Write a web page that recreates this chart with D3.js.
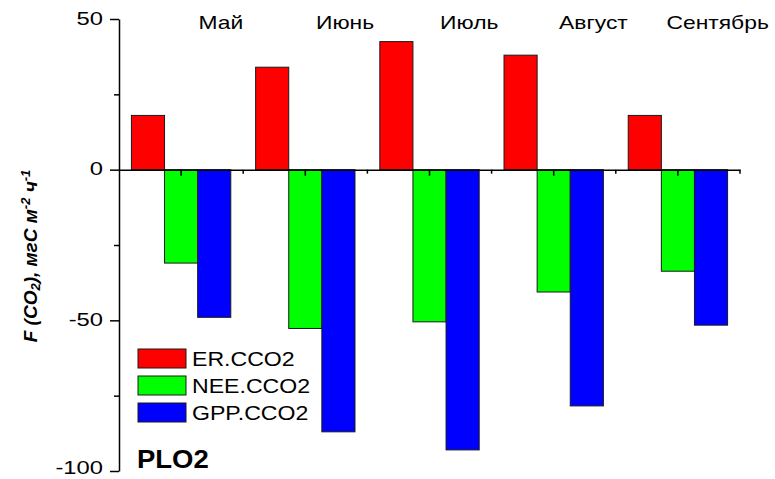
<!DOCTYPE html>
<html>
<head>
<meta charset="utf-8">
<script src="https://cdn.jsdelivr.net/npm/d3@7"></script>
<style>
  body { margin: 0; background: #fff; }
  svg text { font-family: "Liberation Sans", Arial, sans-serif; fill: #000; }
</style>
</head>
<body>
<div id="chart"></div>
<script>
// Données
const months = ["Май", "Июнь", "Июль", "Август", "Сентябрь"];
const series = ["ER.CCO2", "NEE.CCO2", "GPP.CCO2"];
const erValues = [18, 34, 42.5, 38, 18];
const neeValues = [-31, -52.7, -50.5, -40.6, -33.7];
const gppValues = [-49, -87, -93, -78.4, -51.6];
const colors = ["#ff0000", "#00ff00", "#0000ff"];
const majorYTicks = [50, 0, -50, -100];
const minorYTicks = [25, -25, -75];

const width = 775, height = 479;
const svg = d3.select("#chart").append("svg").attr("width", width).attr("height", height);

const x = d3.scaleBand().domain(months).range([119, 740]).padding(0);
const xs = d3.scaleBand().domain(series).range([x.bandwidth() * 0.1, x.bandwidth() * 0.9]);
const y = d3.scaleLinear().domain([-100, 50]).range([471, 19]);

const values = [erValues, neeValues, gppValues];
const data = [];
months.forEach((m, i) => series.forEach((s, j) => data.push({ m, s, v: values[j][i], c: colors[j] })));

// barres
svg.append("g")
    .selectAll("rect")
    .data(data)
    .join("rect")
    .attr("x", d => x(d.m) + xs(d.s))
    .attr("width", xs.bandwidth())
    .attr("y", d => y(Math.max(0, d.v)))
    .attr("height", d => Math.abs(y(d.v) - y(0)))
    .attr("fill", d => d.c)
    .attr("stroke", "#1a1a1a")
    .attr("stroke-width", 1);

// axe Y
const yAxis = svg.append("g")
    .attr("transform", "translate(119,0)")
    .call(d3.axisLeft(y).tickValues(majorYTicks).tickSize(9).tickSizeOuter(0).tickFormat(d => String(d)));
yAxis.select(".domain").attr("stroke-width", 1.5);
yAxis.selectAll(".tick line").attr("stroke-width", 1.5);
yAxis.selectAll("text")
    .attr("x", 0)
    .attr("dy", d => d === -100 ? "0.12em" : "0.28em")  // le dernier reste dans le cadre
    .attr("transform", "translate(-16,0) scale(1.25,1)")
    .style("font-size", "19px");

svg.append("g")
    .attr("transform", "translate(119,0)")
    .call(d3.axisLeft(y).tickValues(minorYTicks).tickSize(5).tickFormat("").tickSizeOuter(0))
    .call(g => g.select(".domain").remove())
    .selectAll("line").attr("stroke-width", 1.5);

// axe X à zéro
const xAxis = svg.append("g")
    .attr("transform", `translate(0,${y(0)})`)
    .call(d3.axisBottom(x).tickSize(6).tickFormat("").tickSizeOuter(0));
xAxis.select(".domain").attr("stroke-width", 1.5);
xAxis.selectAll(".tick line").attr("stroke-width", 1.5);

svg.append("g")
    .selectAll("line")
    .data(months)
    .join("line")
    .attr("x1", d => x(d) + x.bandwidth())
    .attr("x2", d => x(d) + x.bandwidth())
    .attr("y1", y(0))
    .attr("y2", y(0) + 4)
    .attr("stroke", "#000")
    .attr("stroke-width", 1.5);

// noms des mois en haut
svg.append("g")
    .selectAll("text")
    .data(months)
    .join("text")
    .attr("transform", d => `translate(${x(d) + x.bandwidth() * 0.82},29) scale(1.27,1)`)
    .attr("text-anchor", "middle")
    .style("font-size", "18px")
    .text(d => d);

// légende
const legend = svg.append("g").attr("transform", "translate(138,349)");
series.forEach((s, i) => {
    legend.append("rect")
        .attr("x", 0).attr("y", i * 27)
        .attr("width", 48).attr("height", 19)
        .attr("fill", colors[i])
        .attr("stroke", "#1a1a1a");
    legend.append("text")
        .attr("transform", `translate(54,${i * 27 + 17}) scale(1.1,1)`)
        .style("font-size", "21px")
        .text(s);
});

svg.append("text")
    .attr("transform", "translate(137,468) scale(1.1,1)")
    .style("font-size", "25px")
    .style("font-weight", "bold")
    .text("PLO2");

// titre de l'axe Y
const title = svg.append("text")
    .attr("transform", "translate(37,256) rotate(-90)")
    .attr("text-anchor", "middle")
    .style("font-size", "19px")
    .style("font-weight", "bold")
    .style("font-style", "italic");
title.append("tspan").text("F (CO");
title.append("tspan").attr("baseline-shift", "-25%").style("font-size", "13px").text("2");
title.append("tspan").text("), мгС м");
title.append("tspan").attr("baseline-shift", "super").style("font-size", "13px").text("-2");
title.append("tspan").text(" ч");
title.append("tspan").attr("baseline-shift", "super").style("font-size", "13px").text("-1");
</script>
</body>
</html>
